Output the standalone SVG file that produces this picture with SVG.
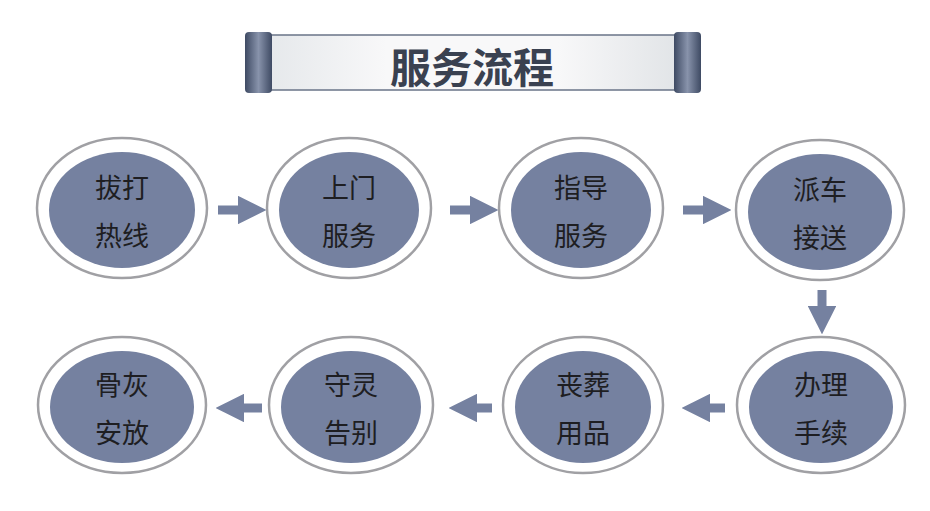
<svg xmlns="http://www.w3.org/2000/svg" width="930" height="511" viewBox="0 0 930 511">
<defs>
<linearGradient id="bar" x1="0" y1="0" x2="1" y2="0">
<stop offset="0" stop-color="#e4e7ea"/><stop offset="0.3" stop-color="#f8f8f9"/><stop offset="0.7" stop-color="#f8f8f9"/><stop offset="1" stop-color="#e0e3e6"/>
</linearGradient>
<linearGradient id="roll" x1="0" y1="0" x2="1" y2="0">
<stop offset="0" stop-color="#3e4a63"/><stop offset="0.5" stop-color="#8893ab"/><stop offset="1" stop-color="#3e4a63"/>
</linearGradient>
<marker id="ah" viewBox="0 0 10 10" refX="5" refY="5" markerWidth="3.2" markerHeight="3.2" orient="auto">
<path d="M0,0 L10,5 L0,10 z" fill="#7581a0"/>
</marker>
</defs>
<style>
.outer{fill:#fff;stroke:#a0a0a4;stroke-width:2.5}
.inner{fill:#7581a0}
.t{font-family:"Noto Sans CJK SC",sans-serif;font-size:27px;fill:#1e1e22;text-anchor:middle}
.c{stroke:#7581a0;stroke-width:9;fill:none;marker-end:url(#ah)}
</style>
<rect width="930" height="511" fill="#fff"/>
<g id="title">
<rect x="258" y="35" width="428" height="55" fill="url(#bar)" stroke="#6a7488" stroke-width="1.5"/>
<rect x="245" y="32" width="27" height="61" rx="4" fill="url(#roll)"/>
<rect x="674" y="32" width="27" height="61" rx="4" fill="url(#roll)"/>
<text x="472" y="83" font-family="Noto Sans CJK SC,sans-serif" font-size="41" font-weight="bold" fill="#3a4150" text-anchor="middle">服务流程</text>
</g>
<g id="connectors">
<line class="c" x1="218" y1="210" x2="252" y2="210"/>
<line class="c" x1="450" y1="210" x2="484" y2="210"/>
<line class="c" x1="683" y1="210" x2="717" y2="210"/>
<line class="c" x1="822" y1="290" x2="822" y2="320"/>
<line class="c" x1="725" y1="408" x2="696" y2="408"/>
<line class="c" x1="492" y1="408" x2="463" y2="408"/>
<line class="c" x1="262" y1="408" x2="230" y2="408"/>
</g>
<g id="n1"><ellipse class="outer" cx="122" cy="208" rx="85" ry="70"/><ellipse class="inner" cx="122" cy="210" rx="73" ry="58"/><text class="t" x="122" y="198">拔打</text><text class="t" x="122" y="246">热线</text></g>
<g id="n2"><ellipse class="outer" cx="349" cy="208" rx="82" ry="70"/><ellipse class="inner" cx="349" cy="210" rx="70" ry="58"/><text class="t" x="349" y="198">上门</text><text class="t" x="349" y="246">服务</text></g>
<g id="n3"><ellipse class="outer" cx="581" cy="208" rx="82" ry="70"/><ellipse class="inner" cx="581" cy="210" rx="70" ry="58"/><text class="t" x="581" y="198">指导</text><text class="t" x="581" y="246">服务</text></g>
<g id="n4"><ellipse class="outer" cx="820" cy="210" rx="84" ry="70"/><ellipse class="inner" cx="820" cy="212" rx="72" ry="58"/><text class="t" x="820" y="200">派车</text><text class="t" x="820" y="248">接送</text></g>
<g id="n5"><ellipse class="outer" cx="821" cy="405" rx="84" ry="68"/><ellipse class="inner" cx="821" cy="407" rx="72" ry="56"/><text class="t" x="821" y="395">办理</text><text class="t" x="821" y="443">手续</text></g>
<g id="n6"><ellipse class="outer" cx="583" cy="405" rx="80" ry="68"/><ellipse class="inner" cx="583" cy="407" rx="68" ry="56"/><text class="t" x="583" y="395">丧葬</text><text class="t" x="583" y="443">用品</text></g>
<g id="n7"><ellipse class="outer" cx="351" cy="405" rx="82" ry="68"/><ellipse class="inner" cx="351" cy="407" rx="70" ry="56"/><text class="t" x="351" y="395">守灵</text><text class="t" x="351" y="443">告别</text></g>
<g id="n8"><ellipse class="outer" cx="122" cy="405" rx="84" ry="68"/><ellipse class="inner" cx="122" cy="407" rx="72" ry="56"/><text class="t" x="122" y="395">骨灰</text><text class="t" x="122" y="443">安放</text></g>
</svg>
